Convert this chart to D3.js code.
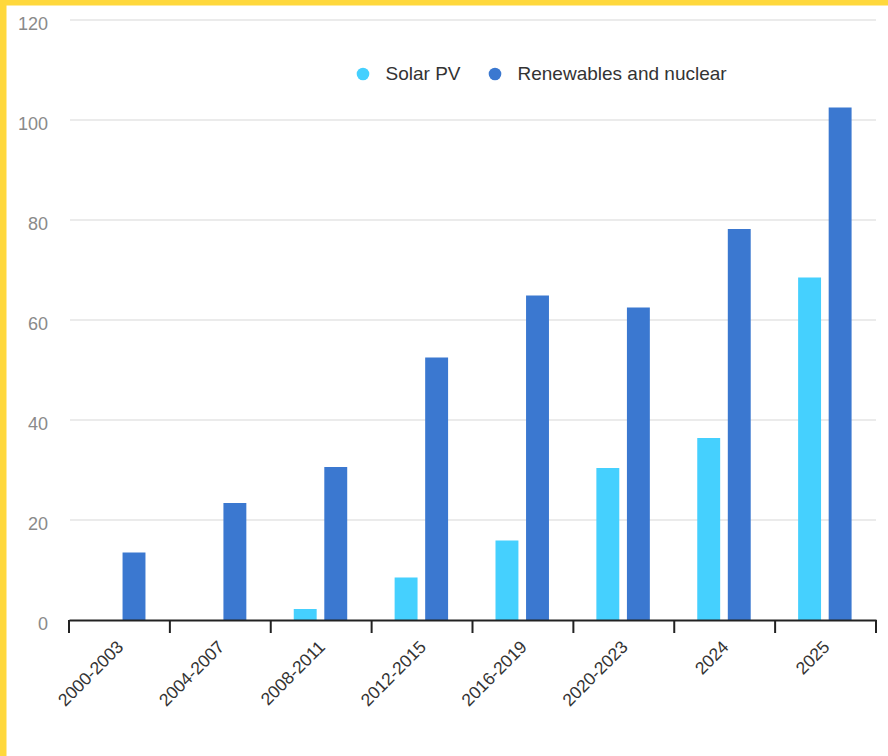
<!DOCTYPE html>
<html>
<head>
<meta charset="utf-8">
<script src="https://cdn.jsdelivr.net/npm/d3@7"></script>
<style>
  html, body { margin: 0; padding: 0; background: #fff; }
  svg { display: block; }
</style>
</head>
<body>
<script>
const categories = ["2000-2003", "2004-2007", "2008-2011", "2012-2015", "2016-2019", "2020-2023", "2024", "2025"];
const solarPV = [null, null, 2.2, 8.5, 15.9, 30.4, 36.4, 68.5];
const renewablesNuclear = [13.5, 23.4, 30.6, 52.5, 64.9, 62.5, 78.2, 102.5];
const seriesNames = ["Solar PV", "Renewables and nuclear"];
const seriesColors = ["#45D0FE", "#3B78D0"];
const yTicks = [0, 20, 40, 60, 80, 100, 120];

(function () {
const W = 888, H = 756;
const svg = d3.select("body").append("svg").attr("width", W).attr("height", H);

svg.append("rect").attr("width", W).attr("height", H).attr("fill", "#fff");
// yellow frame (left and top)
svg.append("rect").attr("x", 0).attr("y", 0).attr("width", 6.5).attr("height", H).attr("fill", "#FFD83C");
svg.append("rect").attr("x", 0).attr("y", 0).attr("width", W).attr("height", 5.5).attr("fill", "#FFD83C");

const mLeft = 69, mRight = 876, mTop = 20, mBottom = 620;

const x0 = d3.scaleBand().domain(categories).range([mLeft, mRight]).paddingInner(0).paddingOuter(0);
const x1 = d3.scaleBand().domain(seriesNames)
  .range([x0.bandwidth() * 0.228, x0.bandwidth() * 0.758]).paddingInner(0.25);
const y = d3.scaleLinear().domain([0, 120]).range([mBottom, mTop]);

// gridlines
svg.append("g").selectAll("line").data(yTicks.filter(d => d > 0)).join("line")
  .attr("x1", mLeft + 1).attr("x2", mRight)
  .attr("y1", d => y(d)).attr("y2", d => y(d))
  .attr("stroke", "#e4e4e4").attr("stroke-width", 1.5);

// y labels
const yAxis = d3.axisLeft(y).tickValues(yTicks).tickSize(0).tickPadding(0);
const gy = svg.append("g").attr("transform", `translate(48,0)`).call(yAxis);
gy.select(".domain").remove();
gy.selectAll("text")
  .attr("font-family", "Liberation Sans, Arial, sans-serif")
  .attr("font-size", 18).attr("fill", "#8a8a8a").attr("dy", "0.5em");

// bars
const rows = categories.map((c, i) => ({ cat: c, vals: [solarPV[i], renewablesNuclear[i]] }));
const groups = svg.append("g").selectAll("g").data(rows).join("g")
  .attr("transform", d => `translate(${x0(d.cat)},0)`);
groups.selectAll("rect")
  .data(d => d.vals.map((v, k) => ({ name: seriesNames[k], v, k })).filter(e => e.v != null))
  .join("rect")
  .attr("x", e => x1(e.name))
  .attr("width", x1.bandwidth())
  .attr("y", e => y(e.v))
  .attr("height", e => y(0) - y(e.v))
  .attr("fill", e => seriesColors[e.k]);

// x axis
const xAxis = d3.axisBottom(x0).tickSize(0).tickFormat("");
const gx = svg.append("g").attr("transform", `translate(0,${mBottom})`).call(xAxis);
gx.select(".domain").attr("stroke", "#222").attr("stroke-width", 2);
// boundary ticks
const bounds = categories.map(c => x0(c)).concat([mRight]);
gx.selectAll("line.bt").data(bounds).join("line").attr("class", "bt")
  .attr("x1", d => d).attr("x2", d => d).attr("y1", 0).attr("y2", 13)
  .attr("stroke", "#222").attr("stroke-width", 2);
// category labels
gx.selectAll("text.cl").data(categories).join("text").attr("class", "cl")
  .attr("transform", d => `translate(${x0(d) + x0.bandwidth() / 2 + 5},${28}) rotate(-45)`)
  .attr("text-anchor", "end")
  .attr("font-family", "Liberation Sans, Arial, sans-serif")
  .attr("font-size", 17.5).attr("fill", "#333")
  .text(d => d);

// legend
const legendPos = [363, 495];
const lg = svg.append("g").selectAll("g").data(seriesNames).join("g")
  .attr("transform", (d, i) => `translate(${legendPos[i]},74)`);
lg.append("circle").attr("r", 6.3).attr("fill", (d, i) => seriesColors[i]);
lg.append("text").attr("x", 22.5).attr("y", 0).attr("dy", "0.3em")
  .attr("font-family", "Liberation Sans, Arial, sans-serif")
  .attr("font-size", 19).attr("fill", "#333")
  .text(d => d);
})();
</script>
</body>
</html>
